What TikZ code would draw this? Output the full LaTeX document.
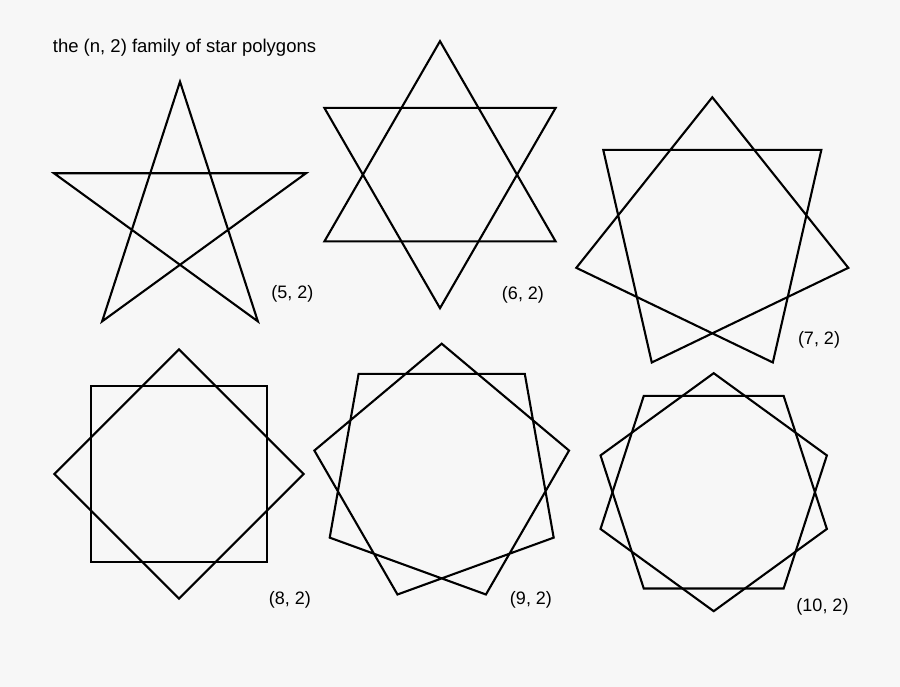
\documentclass[tikz,border=0pt]{standalone}
\usepackage{fontspec}
\setmainfont{Liberation Sans}
\definecolor{bg}{RGB}{247,247,247}
\tikzset{
  starline/.style={draw=black, line width=2.1pt, line join=miter},
  lab/.style={inner sep=0pt, font=\fontsize{18}{21}\selectfont},
  titlelab/.style={inner sep=0pt, anchor=west, font=\fontsize{18.5}{22}\selectfont}
}
\begin{document}
\begin{tikzpicture}[x=1pt,y=1pt]
\fill[bg] (0,0) rectangle (900,687);
\useasboundingbox (0,0) rectangle (900,687);
\node[titlelab] (title) at (52.7,639) {the (n, 2) family of star polygons};
% odd n: a single closed path through every second vertex
\foreach \n/\cx/\cy/\r in {5/180/472.8/132.5, 7/712.3/450.2/139.5, 9/441.7/214/129.3}{
  \pgfmathtruncatemacro\m{\n-1}
  \begin{scope}[shift={(\cx,\cy)}]
    \draw[starline] (90:\r) \foreach \k in {1,...,\m}{ -- ({90+720*\k/\n}:\r)} -- cycle;
  \end{scope}
}
% even n: two regular n/2-gons
\foreach \n/\cx/\cy/\r in {6/440/512.3/133.5, 8/179/213/124.7, 10/713.7/194.8/119}{
  \pgfmathtruncatemacro\h{\n/2-1}
  \begin{scope}[shift={(\cx,\cy)}]
    \foreach \s in {0,1}{
      \draw[starline] ({90+360*\s/\n}:\r) \foreach \k in {1,...,\h}{ -- ({90+360*\s/\n+720*\k/\n}:\r)} -- cycle;
    }
  \end{scope}
}
\node[lab] (l5) at (292.5,393.5) {(5, 2)};
\node[lab] (l6) at (523,392.5) {(6, 2)};
\node[lab] (l7) at (819,347.5) {(7, 2)};
\node[lab] (l8) at (290,87.5) {(8, 2)};
\node[lab] (l9) at (531,87.5) {(9, 2)};
\node[lab] (l10) at (822.5,80.5) {(10, 2)};
\end{tikzpicture}
\end{document}
